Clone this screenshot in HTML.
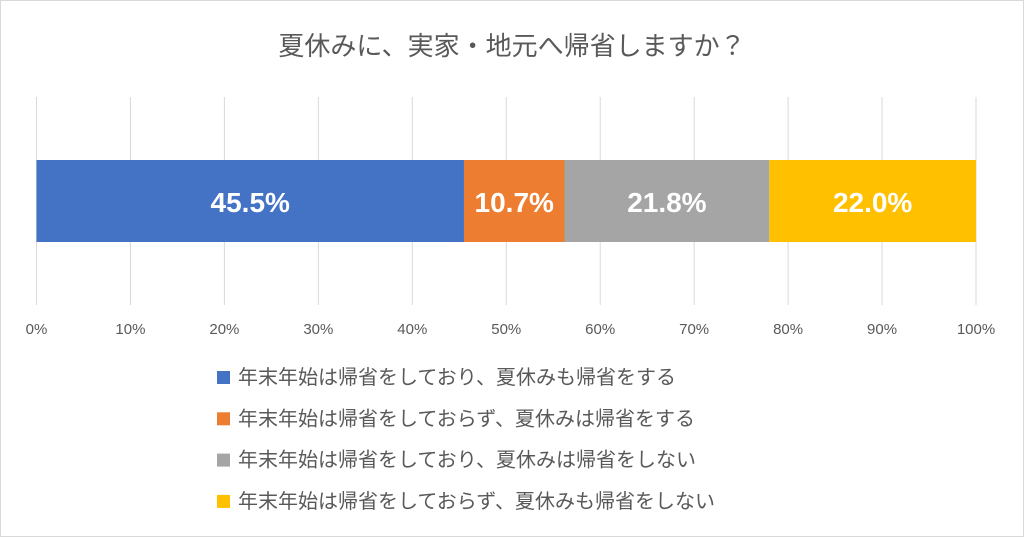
<!DOCTYPE html>
<html><head><meta charset="utf-8"><style>
body{margin:0;background:#fff}
svg{display:block;font-family:"Liberation Sans","Noto Sans CJK JP",sans-serif}
</style></head><body>
<svg id="chart" width="1024" height="537">
<rect x="0.5" y="0.5" width="1023" height="536" fill="#fff" stroke="#d9d9d9"/>
<text x="512" y="55" text-anchor="middle" font-size="26" fill="#595959">夏休みに、実家・地元へ帰省しますか？</text>
<g id="grid"></g><g id="bars"></g><g id="ticks"></g><g id="legend"></g>
</svg>
<script>
const categories=["年末年始は帰省をしており、夏休みも帰省をする","年末年始は帰省をしておらず、夏休みは帰省をする","年末年始は帰省をしており、夏休みは帰省をしない","年末年始は帰省をしておらず、夏休みも帰省をしない"];
const values=[45.5,10.7,21.8,22.0];
const colors=["#4472c4","#ed7d31","#a5a5a5","#ffc000"];
const tickLabels=["0%","10%","20%","30%","40%","50%","60%","70%","80%","90%","100%"];
const NS="http://www.w3.org/2000/svg";
const x=v=>36.5+v*9.395;
function mk(t,a,p){const e=document.createElementNS(NS,t);for(const k in a)e.setAttribute(k,a[k]);p.appendChild(e);return e;}
const grid=document.getElementById('grid'),ticks=document.getElementById('ticks'),bars=document.getElementById('bars'),legend=document.getElementById('legend');
tickLabels.forEach((l,i)=>{
 const g=mk('line',{x1:x(i*10),x2:x(i*10),y1:97,y2:305,stroke:'#d9d9d9','stroke-width':1},grid);
 
 
 const t=mk('text',{x:x(i*10),y:334,'text-anchor':'middle','font-size':15,fill:'#595959'},ticks);
 t.textContent=l;
 
 
});
let acc=0;
values.forEach((v,i)=>{
 const r=mk('rect',{x:x(acc),y:160,width:x(acc+v)-x(acc),height:82,fill:colors[i]},bars);
 
 
 const t=mk('text',{x:(x(acc)+x(acc+v))/2,y:212,'text-anchor':'middle','font-size':28,'font-weight':'bold',fill:'#fff'},bars);
 t.textContent=v.toFixed(1)+'%';
 
 
 acc+=v;
 const y=377+i*41.3;
 const s=mk('rect',{x:217,y:y-6,width:13,height:13,fill:colors[i]},legend);
 
 
 const lt=mk('text',{x:238,y:y+7,'font-size':20,fill:'#595959'},legend);
 lt.textContent=categories[i];
 
 
});
</script>
</body></html>
